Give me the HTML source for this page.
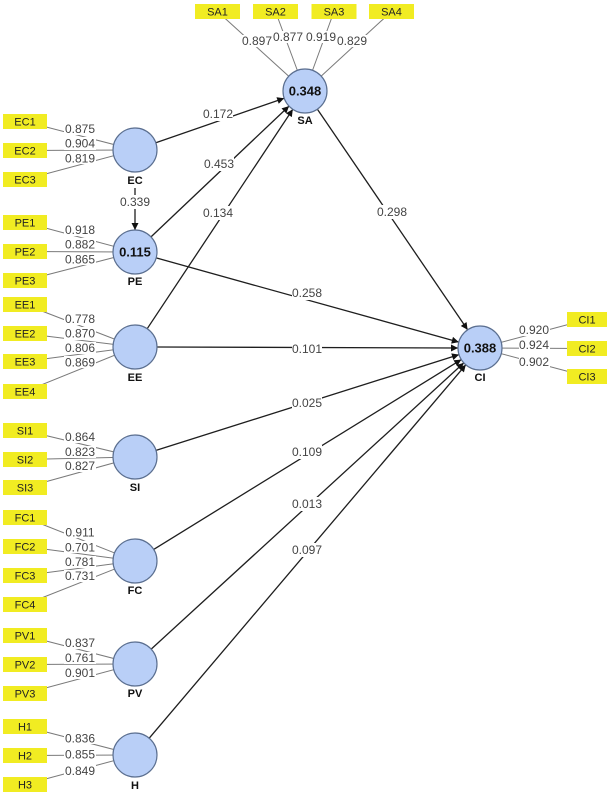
<!DOCTYPE html>
<html><head><meta charset="utf-8"><style>
html,body{margin:0;padding:0;background:#fff;}
svg{display:block;}
.bx{fill:#f1ec22;}
.bt{font-family:"Liberation Sans",sans-serif;font-size:11px;fill:#222;text-anchor:middle;}
.ld{stroke:#7a7a7a;stroke-width:1;}
.lt{font-family:"Liberation Sans",sans-serif;font-size:12px;fill:#444;text-anchor:middle;}
.bg{fill:#fff;}
.pl{stroke:#1e1e1e;stroke-width:1.3;fill:none;}
.cc{fill:#b9cff7;stroke:#5b6f90;stroke-width:1.2;}
.cn{font-family:"Liberation Sans",sans-serif;font-size:11px;font-weight:bold;fill:#111;text-anchor:middle;}
.cv{font-family:"Liberation Sans",sans-serif;font-size:13px;font-weight:bold;fill:#111;text-anchor:middle;}
</style></head><body>
<svg width="615" height="795" viewBox="0 0 615 795" xmlns="http://www.w3.org/2000/svg">
<defs>
<marker id="ah" viewBox="0 0 10 10" refX="10" refY="5" markerWidth="8" markerHeight="7" markerUnits="userSpaceOnUse" orient="auto">
<path d="M0,0 L10,5 L0,10 z" fill="#111"/>
</marker>
</defs>

<!-- loading lines -->
<g class="ld">
<line x1="25" y1="121.5" x2="135" y2="150"/><line x1="25" y1="150.5" x2="135" y2="150"/><line x1="25" y1="179.5" x2="135" y2="150"/>
<line x1="25" y1="222.5" x2="135" y2="252"/><line x1="25" y1="251.5" x2="135" y2="252"/><line x1="25" y1="280.5" x2="135" y2="252"/>
<line x1="25" y1="304.5" x2="135" y2="347"/><line x1="25" y1="333.5" x2="135" y2="347"/><line x1="25" y1="361.5" x2="135" y2="347"/><line x1="25" y1="391.5" x2="135" y2="347"/>
<line x1="25" y1="430.5" x2="135" y2="457"/><line x1="25" y1="459.5" x2="135" y2="457"/><line x1="25" y1="487.5" x2="135" y2="457"/>
<line x1="25" y1="517.5" x2="135" y2="561"/><line x1="25" y1="546.5" x2="135" y2="561"/><line x1="25" y1="575.5" x2="135" y2="561"/><line x1="25" y1="604.5" x2="135" y2="561"/>
<line x1="25" y1="635.5" x2="135" y2="664"/><line x1="25" y1="664.5" x2="135" y2="664"/><line x1="25" y1="693.5" x2="135" y2="664"/>
<line x1="25" y1="726.5" x2="135" y2="755"/><line x1="25" y1="755.5" x2="135" y2="755"/><line x1="25" y1="784.5" x2="135" y2="755"/>
<line x1="217.5" y1="11.5" x2="305" y2="91"/><line x1="275.5" y1="11.5" x2="305" y2="91"/><line x1="334" y1="11.5" x2="305" y2="91"/><line x1="391.5" y1="11.5" x2="305" y2="91"/>
<line x1="587" y1="319.5" x2="480" y2="348"/><line x1="587" y1="348.5" x2="480" y2="348"/><line x1="587" y1="376.5" x2="480" y2="348"/>
</g>

<!-- loading label backgrounds -->
<g class="bg">
<rect x="64" y="123" width="32" height="12"/><rect x="64" y="137" width="32" height="13"/><rect x="64" y="152" width="32" height="12"/>
<rect x="64" y="224" width="32" height="12"/><rect x="64" y="238" width="32" height="13"/><rect x="64" y="253" width="32" height="12"/>
<rect x="64" y="313" width="32" height="12"/><rect x="64" y="327" width="32" height="13"/><rect x="64" y="342" width="32" height="12"/><rect x="64" y="356" width="32" height="12"/>
<rect x="64" y="431" width="32" height="12"/><rect x="64" y="446" width="32" height="12"/><rect x="64" y="460" width="32" height="12"/>
<rect x="64" y="526" width="32" height="12"/><rect x="64" y="541" width="32" height="12"/><rect x="64" y="556" width="32" height="12"/><rect x="64" y="570" width="32" height="12"/>
<rect x="64" y="637" width="32" height="12"/><rect x="64" y="652" width="32" height="12"/><rect x="64" y="667" width="32" height="12"/>
<rect x="64" y="732" width="32" height="12"/><rect x="64" y="748" width="32" height="12"/><rect x="64" y="765" width="32" height="12"/>
<rect x="242" y="35" width="30" height="12"/><rect x="273" y="31" width="30" height="12"/><rect x="307" y="31" width="29" height="12"/><rect x="337" y="35" width="30" height="12"/>
<rect x="519" y="324" width="31" height="12"/><rect x="519" y="339" width="31" height="12"/><rect x="519" y="356" width="31" height="12"/>
</g>

<!-- loading labels -->
<g class="lt">
<text x="80" y="133">0.875</text><text x="80" y="147.5">0.904</text><text x="80" y="162.5">0.819</text>
<text x="80" y="234">0.918</text><text x="80" y="248.5">0.882</text><text x="80" y="263.5">0.865</text>
<text x="80" y="323">0.778</text><text x="80" y="337.5">0.870</text><text x="80" y="352">0.806</text><text x="80" y="366.5">0.869</text>
<text x="80" y="441">0.864</text><text x="80" y="456">0.823</text><text x="80" y="470">0.827</text>
<text x="80" y="536.5">0.911</text><text x="80" y="551.5">0.701</text><text x="80" y="566">0.781</text><text x="80" y="580">0.731</text>
<text x="80" y="647">0.837</text><text x="80" y="662">0.761</text><text x="80" y="677">0.901</text>
<text x="80" y="742.5">0.836</text><text x="80" y="758.5">0.855</text><text x="80" y="775">0.849</text>
<text x="257" y="45">0.897</text><text x="288" y="41">0.877</text><text x="321" y="41">0.919</text><text x="352" y="45">0.829</text>
<text x="534" y="334">0.920</text><text x="534" y="349">0.924</text><text x="534" y="366">0.902</text>
</g>

<!-- path lines -->
<g class="pl" marker-end="url(#ah)">
<line x1="155.8" y1="142.8" x2="284.2" y2="98.2"/>
<line x1="135" y1="188" x2="135" y2="230"/>
<line x1="151" y1="236.9" x2="289" y2="106.1"/>
<line x1="147.2" y1="328.7" x2="292.8" y2="109.3"/>
<line x1="317.4" y1="109.2" x2="467.6" y2="329.8"/>
<line x1="156.2" y1="257.9" x2="458.8" y2="342.1"/>
<line x1="157" y1="347" x2="458" y2="348"/>
<line x1="156" y1="450.4" x2="459" y2="354.6"/>
<line x1="153.7" y1="549.4" x2="461.3" y2="359.6"/>
<line x1="151.2" y1="649.1" x2="463.8" y2="362.9"/>
<line x1="149.2" y1="738.2" x2="465.8" y2="364.8"/>
</g>

<!-- path label backgrounds -->
<g class="bg">
<rect x="203" y="108" width="30" height="13"/>
<rect x="121" y="195" width="28" height="14"/>
<rect x="204" y="157" width="30" height="14"/>
<rect x="203" y="206" width="30" height="14"/>
<rect x="377" y="205" width="30" height="14"/>
<rect x="292" y="286" width="30" height="14"/>
<rect x="292" y="343" width="30" height="12"/>
<rect x="292" y="396" width="30" height="14"/>
<rect x="292" y="445" width="30" height="14"/>
<rect x="292" y="497" width="30" height="14"/>
<rect x="292" y="543" width="30" height="14"/>
</g>
<g class="lt">
<text x="218" y="118">0.172</text>
<text x="135" y="206">0.339</text>
<text x="219" y="168">0.453</text>
<text x="218" y="217">0.134</text>
<text x="392" y="216">0.298</text>
<text x="307" y="297">0.258</text>
<text x="307" y="353">0.101</text>
<text x="307" y="407">0.025</text>
<text x="307" y="456">0.109</text>
<text x="307" y="508">0.013</text>
<text x="307" y="554">0.097</text>
</g>

<!-- indicator boxes -->
<g>
<rect class="bx" x="3" y="114" width="44" height="15"/><text class="bt" x="25" y="125.5">EC1</text>
<rect class="bx" x="3" y="143" width="44" height="15"/><text class="bt" x="25" y="154.5">EC2</text>
<rect class="bx" x="3" y="172" width="44" height="15"/><text class="bt" x="25" y="183.5">EC3</text>
<rect class="bx" x="3" y="215" width="44" height="15"/><text class="bt" x="25" y="226.5">PE1</text>
<rect class="bx" x="3" y="244" width="44" height="15"/><text class="bt" x="25" y="255.5">PE2</text>
<rect class="bx" x="3" y="273" width="44" height="15"/><text class="bt" x="25" y="284.5">PE3</text>
<rect class="bx" x="3" y="297" width="44" height="15"/><text class="bt" x="25" y="308.5">EE1</text>
<rect class="bx" x="3" y="326" width="44" height="15"/><text class="bt" x="25" y="337.5">EE2</text>
<rect class="bx" x="3" y="354" width="44" height="15"/><text class="bt" x="25" y="365.5">EE3</text>
<rect class="bx" x="3" y="384" width="44" height="15"/><text class="bt" x="25" y="395.5">EE4</text>
<rect class="bx" x="3" y="423" width="44" height="15"/><text class="bt" x="25" y="434.5">SI1</text>
<rect class="bx" x="3" y="452" width="44" height="15"/><text class="bt" x="25" y="463.5">SI2</text>
<rect class="bx" x="3" y="480" width="44" height="15"/><text class="bt" x="25" y="491.5">SI3</text>
<rect class="bx" x="3" y="510" width="44" height="15"/><text class="bt" x="25" y="521.5">FC1</text>
<rect class="bx" x="3" y="539" width="44" height="15"/><text class="bt" x="25" y="550.5">FC2</text>
<rect class="bx" x="3" y="568" width="44" height="15"/><text class="bt" x="25" y="579.5">FC3</text>
<rect class="bx" x="3" y="597" width="44" height="15"/><text class="bt" x="25" y="608.5">FC4</text>
<rect class="bx" x="3" y="628" width="44" height="15"/><text class="bt" x="25" y="639.5">PV1</text>
<rect class="bx" x="3" y="657" width="44" height="15"/><text class="bt" x="25" y="668.5">PV2</text>
<rect class="bx" x="3" y="686" width="44" height="15"/><text class="bt" x="25" y="697.5">PV3</text>
<rect class="bx" x="3" y="719" width="44" height="15"/><text class="bt" x="25" y="730.5">H1</text>
<rect class="bx" x="3" y="748" width="44" height="15"/><text class="bt" x="25" y="759.5">H2</text>
<rect class="bx" x="3" y="777" width="44" height="15"/><text class="bt" x="25" y="788.5">H3</text>
<rect class="bx" x="195" y="4" width="45" height="15"/><text class="bt" x="217.5" y="15.5">SA1</text>
<rect class="bx" x="253" y="4" width="45" height="15"/><text class="bt" x="275.5" y="15.5">SA2</text>
<rect class="bx" x="311.5" y="4" width="45" height="15"/><text class="bt" x="334" y="15.5">SA3</text>
<rect class="bx" x="369" y="4" width="45" height="15"/><text class="bt" x="391.5" y="15.5">SA4</text>
<rect class="bx" x="567" y="312" width="40" height="15"/><text class="bt" x="587" y="323.5">CI1</text>
<rect class="bx" x="567" y="341" width="40" height="15"/><text class="bt" x="587" y="352.5">CI2</text>
<rect class="bx" x="567" y="369" width="40" height="15"/><text class="bt" x="587" y="380.5">CI3</text>
</g>

<!-- constructs -->
<g>
<circle class="cc" cx="135" cy="150" r="22"/><text class="cn" x="135" y="184">EC</text>
<circle class="cc" cx="135" cy="252" r="22"/><text class="cv" x="135" y="256.5">0.115</text><text class="cn" x="135" y="285">PE</text>
<circle class="cc" cx="135" cy="347" r="22"/><text class="cn" x="135" y="381">EE</text>
<circle class="cc" cx="135" cy="457" r="22"/><text class="cn" x="135" y="491">SI</text>
<circle class="cc" cx="135" cy="561" r="22"/><text class="cn" x="135" y="594">FC</text>
<circle class="cc" cx="135" cy="664" r="22"/><text class="cn" x="135" y="697">PV</text>
<circle class="cc" cx="135" cy="755" r="22"/><text class="cn" x="135" y="789">H</text>
<circle class="cc" cx="305" cy="91" r="22"/><text class="cv" x="305" y="95.5">0.348</text><text class="cn" x="305" y="124">SA</text>
<circle class="cc" cx="480" cy="348" r="22"/><text class="cv" x="480" y="352.5">0.388</text><text class="cn" x="480" y="381">CI</text>
</g>
</svg>
</body></html>
